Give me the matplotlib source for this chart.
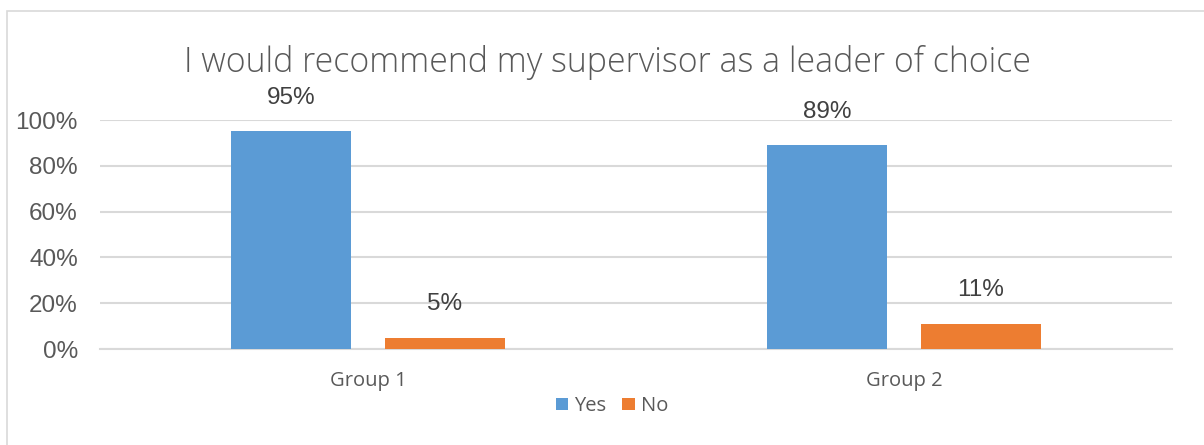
import matplotlib
matplotlib.use("Agg")
import matplotlib.pyplot as plt
import numpy as np
from matplotlib.patches import Rectangle

categories = ["Group 1", "Group 2"]
series_names = ["Yes", "No"]
yes_values = [95, 89]
no_values = [5, 11]
y_ticks = [0, 20, 40, 60, 80, 100]
y_tick_labels = ["0%", "20%", "40%", "60%", "80%", "100%"]

title = "I would recommend my supervisor as a leader of choice"
colors = ["#5B9BD5", "#ED7D31"]
text_color = "#595959"
grid_color = "#D9D9D9"

fig = plt.figure(figsize=(12.04, 4.45), dpi=100)
ax = fig.add_axes([100 / 1204, 1 - 349 / 445, 1072 / 1204, 229 / 445])

x = np.arange(len(categories))
width = 0.224
offset = (width + 0.0616) / 2

for vals, name, col, sign in [(yes_values, series_names[0], colors[0], -1),
                              (no_values, series_names[1], colors[1], 1)]:
    bars = ax.bar(x + sign * offset, vals, width, color=col, label=name, zorder=3)
    for b, v in zip(bars, vals):
        ax.annotate(f"{v}%", (b.get_x() + b.get_width() / 2, v),
                    xytext=(0, 24), textcoords="offset points",
                    ha="center", va="center", fontsize=17.5, color="#404040",
                    family="Liberation Sans")

ax.set_xlim(-0.5, len(categories) - 0.5)
ax.set_ylim(0, 100)
ax.set_yticks(y_ticks)
ax.set_yticklabels(y_tick_labels, fontsize=17.5, color=text_color, family="Liberation Sans")
ax.set_xticks(x)
ax.set_xticklabels(categories, fontsize=14.5, color=text_color, family="Open Sans")
ax.tick_params(axis="both", length=0)
ax.tick_params(axis="y", pad=16)
ax.tick_params(axis="x", pad=16)
ax.yaxis.grid(True, color=grid_color, linewidth=1.5, zorder=0)
ax.set_axisbelow(True)
for s in ax.spines.values():
    s.set_visible(False)
ax.spines["bottom"].set_visible(True)
ax.spines["bottom"].set_color(grid_color)
ax.spines["bottom"].set_linewidth(1.5)

fig.text(608 / 1204, 1 - 62 / 445, title, ha="center", va="center",
         fontsize=24.4, color=text_color, family="Open Sans", fontweight="light")

leg = fig.legend(loc="center", bbox_to_anchor=(612 / 1204, 1 - 406 / 445), ncol=2,
                 frameon=False, fontsize=14.5, handlelength=0.6, handleheight=0.6,
                 handletextpad=0.3, columnspacing=0.8)
for t in leg.get_texts():
    t.set_color(text_color)
    t.set_family("Open Sans")

# chart frame
fig.patches.append(Rectangle((7 / 1204, -0.1), 1.2, 1 - 11 / 445 + 0.1,
                             transform=fig.transFigure, fill=False,
                             edgecolor=grid_color, linewidth=1.2))

fig.savefig("out.png", dpi=100)
